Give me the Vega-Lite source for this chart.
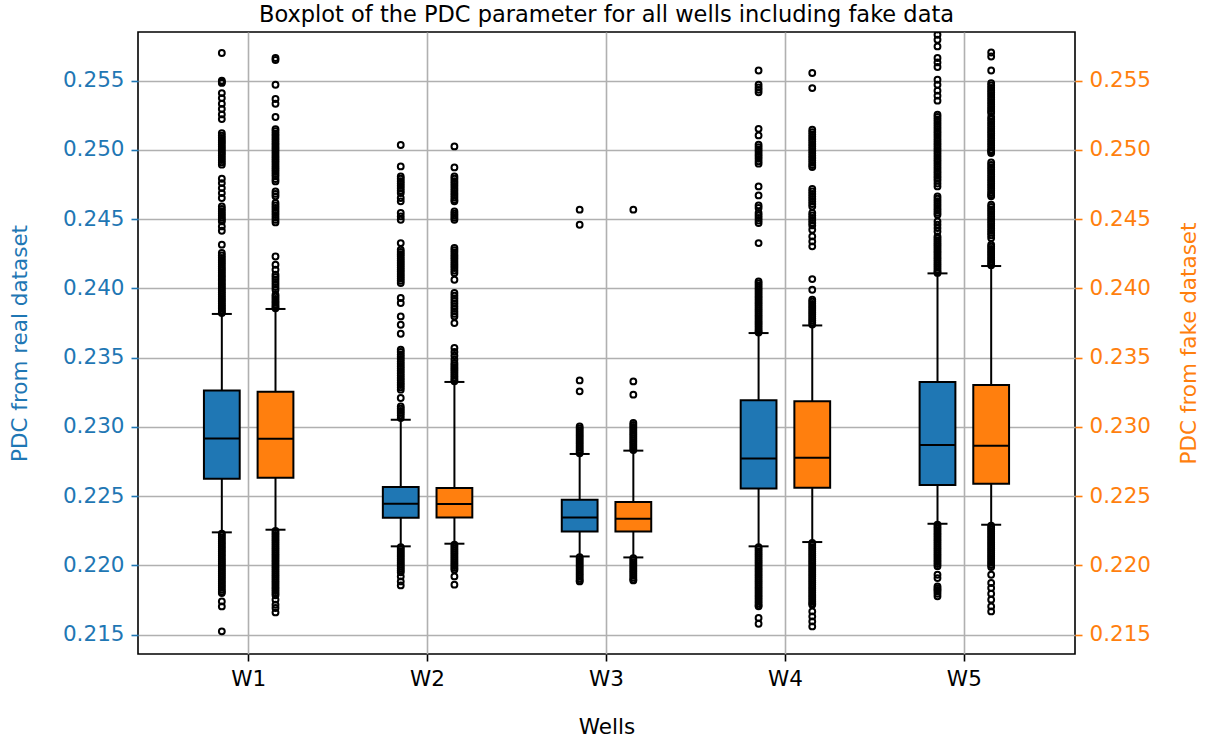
{
"$schema": "https://vega.github.io/schema/vega-lite/v6.json",
"width": 937, "height": 622,
"autosize": {"type": "none"},
"padding": {"left": 138, "top": 32, "right": 134, "bottom": 88},
"title": {"text": "Boxplot of the PDC parameter for all wells including fake data", "fontSize": 22.5, "fontWeight": "normal", "font": "DejaVu Sans", "color": "#000", "anchor": "middle", "frame": "group", "baseline": "alphabetic", "offset": -12},
"config": {
  "font": "DejaVu Sans",
  "view": {"stroke": "#000", "strokeWidth": 1.6},
  "axis": {"domain": false, "labelFont": "DejaVu Sans", "labelFontSize": 21.5, "titleFont": "DejaVu Sans", "titleFontSize": 21.5, "titleFontWeight": "normal", "tickSize": 7, "tickWidth": 1.6, "labelPadding": 7, "gridColor": "#b0b0b0", "gridWidth": 1.6, "labelColor": "#000", "titleColor": "#000", "tickColor": "#000"},
  "axisX": {"labelAngle": 0, "grid": true, "titlePadding": 27}
},
"datasets": {
  "stats": [
    {"w": "W1", "s": "real", "lo": 0.22239, "q1": 0.22626, "med": 0.22917, "q3": 0.23264, "hi": 0.23816},
    {"w": "W1", "s": "fake", "lo": 0.22258, "q1": 0.22634, "med": 0.22915, "q3": 0.23255, "hi": 0.23852},
    {"w": "W2", "s": "real", "lo": 0.22138, "q1": 0.22345, "med": 0.22446, "q3": 0.22566, "hi": 0.23052},
    {"w": "W2", "s": "fake", "lo": 0.22157, "q1": 0.22347, "med": 0.22444, "q3": 0.22559, "hi": 0.23325},
    {"w": "W3", "s": "real", "lo": 0.22065, "q1": 0.22246, "med": 0.22347, "q3": 0.22475, "hi": 0.22805},
    {"w": "W3", "s": "fake", "lo": 0.22058, "q1": 0.22246, "med": 0.22338, "q3": 0.22458, "hi": 0.22829},
    {"w": "W4", "s": "real", "lo": 0.22138, "q1": 0.22556, "med": 0.22773, "q3": 0.23192, "hi": 0.23678},
    {"w": "W4", "s": "fake", "lo": 0.22169, "q1": 0.22561, "med": 0.22778, "q3": 0.23185, "hi": 0.23733},
    {"w": "W5", "s": "real", "lo": 0.22301, "q1": 0.22581, "med": 0.22870, "q3": 0.23325, "hi": 0.24109},
    {"w": "W5", "s": "fake", "lo": 0.22294, "q1": 0.22590, "med": 0.22865, "q3": 0.23303, "hi": 0.24162}
  ],
  "fliers": [
    {"w": "W1", "s": "real", "v": [0.2570,0.2550,0.25492,0.25484,0.25411,0.25375,0.25334,0.25296,0.25257,0.25223,0.25122,0.25104,0.25088,0.25071,0.25056,0.2504,0.25023,0.25007,0.24991,0.24976,0.2496,0.24943,0.24927,0.24911,0.24894,0.24792,0.24761,0.24725,0.24689,0.24653,0.24592,0.24574,0.24558,0.24541,0.24526,0.2451,0.24496,0.24484,0.24448,0.24417,0.24316,0.24256,0.24238,0.24221,0.24205,0.2419,0.24174,0.24158,0.24143,0.24128,0.24113,0.24098,0.24084,0.24069,0.24055,0.2404,0.24026,0.24012,0.23998,0.23984,0.2397,0.23957,0.23943,0.2393,0.23917,0.23904,0.23891,0.23878,0.23866,0.23854,0.23842,0.2383,0.23822,0.2223,0.22216,0.22201,0.22187,0.22172,0.22158,0.22143,0.22129,0.22114,0.221,0.22085,0.22071,0.22056,0.22042,0.22027,0.22013,0.21998,0.21984,0.21969,0.21955,0.2194,0.21926,0.21911,0.21897,0.21882,0.21868,0.21853,0.21839,0.21824,0.2181,0.21801,0.2174,0.21704,0.21524]},
    {"w": "W1", "s": "fake", "v": [0.25664,0.2565,0.25471,0.25368,0.25334,0.25238,0.25151,0.25135,0.25118,0.25102,0.25086,0.2507,0.25053,0.25037,0.25021,0.25005,0.24989,0.24972,0.24956,0.2494,0.24924,0.24908,0.24891,0.24875,0.24859,0.24843,0.24826,0.2481,0.2479,0.24773,0.24701,0.24683,0.24665,0.24617,0.246,0.24582,0.24565,0.24547,0.2453,0.24512,0.24495,0.24477,0.24231,0.24171,0.24135,0.24099,0.24082,0.24064,0.24046,0.24028,0.2401,0.23991,0.23955,0.2394,0.23925,0.2391,0.23896,0.23882,0.23868,0.23857,0.2225,0.22235,0.2222,0.22205,0.2219,0.22175,0.2216,0.22145,0.2213,0.22115,0.221,0.22085,0.2207,0.22055,0.2204,0.22025,0.2201,0.21995,0.2198,0.21965,0.2195,0.21935,0.2192,0.21905,0.2189,0.21875,0.2186,0.21845,0.2183,0.21815,0.218,0.21785,0.21753,0.21717,0.21693,0.21661]},
    {"w": "W2", "s": "real", "v": [0.25036,0.24881,0.24809,0.24792,0.24775,0.24758,0.24741,0.24724,0.24706,0.24689,0.24653,0.24629,0.24545,0.2452,0.24496,0.24328,0.2428,0.24264,0.24248,0.24232,0.24216,0.242,0.24184,0.24168,0.24152,0.24136,0.2412,0.24104,0.24088,0.24072,0.24056,0.24039,0.23931,0.23895,0.23798,0.23738,0.23673,0.23558,0.23541,0.23524,0.23507,0.2349,0.23473,0.23456,0.23439,0.23422,0.23405,0.23388,0.23371,0.23354,0.23337,0.2332,0.23303,0.23286,0.23269,0.23209,0.23148,0.23132,0.23116,0.231,0.23084,0.23064,0.22132,0.22118,0.22104,0.2209,0.22076,0.22062,0.22048,0.22034,0.2202,0.22006,0.21992,0.21978,0.21964,0.2195,0.21921,0.21885,0.21856]},
    {"w": "W2", "s": "fake", "v": [0.25026,0.24874,0.24809,0.24792,0.24775,0.24758,0.24741,0.24724,0.24707,0.2469,0.24673,0.24656,0.2464,0.24629,0.24556,0.2454,0.24525,0.2451,0.24496,0.24292,0.24276,0.2426,0.24244,0.24228,0.24212,0.24196,0.2418,0.24164,0.24148,0.2413,0.24112,0.24063,0.23967,0.23948,0.23929,0.2391,0.23891,0.23872,0.23853,0.23834,0.23816,0.23798,0.2375,0.2357,0.23542,0.23514,0.23486,0.23462,0.23447,0.23432,0.23417,0.23402,0.23387,0.23372,0.23357,0.23342,0.2333,0.2215,0.22136,0.22122,0.22108,0.22094,0.2208,0.22066,0.22052,0.22038,0.22024,0.2201,0.21996,0.21982,0.21969,0.21921,0.21861]},
    {"w": "W3", "s": "real", "v": [0.24569,0.2446,0.23336,0.23257,0.23004,0.2299,0.22976,0.22962,0.22948,0.22934,0.2292,0.22906,0.22892,0.22878,0.22864,0.2285,0.22836,0.22822,0.2281,0.2206,0.22046,0.22032,0.22018,0.22004,0.2199,0.21976,0.21962,0.21948,0.21934,0.2192,0.21906,0.21892,0.21885]},
    {"w": "W3", "s": "fake", "v": [0.24569,0.23329,0.23233,0.23029,0.23015,0.23001,0.22987,0.22973,0.22959,0.22945,0.22931,0.22917,0.22903,0.22889,0.22875,0.22861,0.22847,0.22833,0.22052,0.22038,0.22024,0.2201,0.21996,0.21982,0.21968,0.21954,0.2194,0.21926,0.21912,0.21898,0.21892]},
    {"w": "W4", "s": "real", "v": [0.25574,0.25471,0.25452,0.25434,0.25416,0.25153,0.25105,0.25038,0.25021,0.25004,0.24987,0.2497,0.24953,0.24936,0.24918,0.24901,0.24737,0.24672,0.246,0.24581,0.24545,0.24527,0.24509,0.24491,0.24473,0.24328,0.24051,0.24036,0.24021,0.24006,0.23991,0.23976,0.23961,0.23946,0.23931,0.23916,0.23901,0.23886,0.23871,0.23856,0.23841,0.23826,0.23811,0.23796,0.23781,0.23766,0.23751,0.23736,0.23721,0.23706,0.23691,0.23682,0.22132,0.22117,0.22102,0.22087,0.22072,0.22057,0.22042,0.22027,0.22012,0.21997,0.21982,0.21967,0.21952,0.21937,0.21922,0.21907,0.21892,0.21877,0.21862,0.21847,0.21832,0.21817,0.21802,0.21787,0.21772,0.21757,0.21742,0.21727,0.21712,0.21705,0.21621,0.21579]},
    {"w": "W4", "s": "fake", "v": [0.25556,0.25447,0.25146,0.25129,0.25112,0.25095,0.25078,0.25061,0.25044,0.25027,0.2501,0.24993,0.24976,0.24959,0.24942,0.24925,0.24908,0.24891,0.24877,0.24718,0.247,0.24682,0.24664,0.24646,0.24628,0.2461,0.24592,0.24545,0.24527,0.24509,0.24491,0.24473,0.24455,0.24424,0.24376,0.2434,0.24304,0.24068,0.23991,0.23919,0.23904,0.23889,0.23874,0.23859,0.23844,0.23829,0.23814,0.23799,0.23784,0.23769,0.23754,0.2374,0.22162,0.22147,0.22132,0.22117,0.22102,0.22087,0.22072,0.22057,0.22042,0.22027,0.22012,0.21997,0.21982,0.21967,0.21952,0.21937,0.21922,0.21907,0.21892,0.21877,0.21862,0.21847,0.21832,0.21817,0.21802,0.21787,0.21772,0.21757,0.21742,0.21727,0.21717,0.21668,0.21632,0.21596,0.2156]},
    {"w": "W5", "s": "real", "v": [0.2587,0.25832,0.25796,0.25748,0.25664,0.25632,0.25599,0.25507,0.25471,0.25428,0.25392,0.25356,0.25255,0.25238,0.25221,0.25204,0.25187,0.2517,0.25153,0.25136,0.25119,0.25102,0.25085,0.25068,0.25051,0.25034,0.25017,0.25,0.24983,0.24966,0.24949,0.24932,0.24915,0.24898,0.24881,0.24864,0.24847,0.2483,0.24813,0.24796,0.24779,0.24758,0.24737,0.24665,0.24648,0.24631,0.24614,0.24597,0.2458,0.24563,0.24546,0.24532,0.24484,0.2446,0.24436,0.24412,0.24376,0.24361,0.24346,0.24331,0.24316,0.24301,0.24286,0.24271,0.24256,0.24241,0.24226,0.24211,0.24196,0.24181,0.24166,0.24151,0.24136,0.24121,0.24112,0.22295,0.2228,0.22265,0.2225,0.22235,0.2222,0.22205,0.2219,0.22175,0.2216,0.22145,0.2213,0.22115,0.221,0.22085,0.2207,0.22055,0.2204,0.22025,0.2201,0.21995,0.21933,0.21909,0.21849,0.21836,0.21824,0.21812,0.21795,0.21777]},
    {"w": "W5", "s": "fake", "v": [0.25704,0.25675,0.25574,0.25483,0.25466,0.25449,0.25432,0.25415,0.25398,0.25381,0.25364,0.25347,0.2533,0.25313,0.25296,0.2528,0.25267,0.25238,0.25221,0.25204,0.25187,0.2517,0.25153,0.25136,0.25119,0.25102,0.25085,0.25068,0.25051,0.25034,0.25017,0.25,0.2499,0.24978,0.2491,0.24893,0.24876,0.24859,0.24842,0.24825,0.24808,0.24791,0.24774,0.24757,0.2474,0.24723,0.24706,0.24689,0.24675,0.24665,0.24605,0.24588,0.24571,0.24554,0.24537,0.2452,0.24503,0.24486,0.24469,0.24452,0.24435,0.24418,0.24401,0.24384,0.24364,0.24316,0.24301,0.24286,0.24271,0.24256,0.24241,0.24226,0.24211,0.24196,0.24181,0.24168,0.22288,0.22273,0.22258,0.22243,0.22228,0.22213,0.22198,0.22183,0.22168,0.22153,0.22138,0.22123,0.22108,0.22093,0.22078,0.22063,0.22048,0.22033,0.22018,0.22003,0.21988,0.21933,0.21873,0.21837,0.21796,0.21753,0.21704,0.21668]}
  ]
},
"layer": [
  {"layer": [
    {"data": {"name": "stats"}, "transform": [{"filter": {"field": "s", "equal": "real"}}],
     "mark": {"type": "rule", "color": "#000", "strokeWidth": 2},
     "encoding": {
       "x": {"field": "w", "type": "nominal", "title": "Wells", "scale": {"paddingInner": 0, "paddingOuter": 0.1185}},
       "xOffset": {"field": "s", "type": "nominal", "scale": {"domain": ["real", "fake"], "paddingInner": 0.3333, "paddingOuter": 0.8333}},
       "y": {"field": "lo", "type": "quantitative", "title": "PDC from real dataset", "scale": {"domain": [0.213606, 0.258519], "nice": false, "zero": false},
             "axis": {"orient": "left", "values": [0.215, 0.22, 0.225, 0.23, 0.235, 0.24, 0.245, 0.25, 0.255], "format": ".3f", "grid": true, "labelColor": "#1f77b4", "tickColor": "#1f77b4", "titleColor": "#1f77b4", "titleX": -118, "titleY": 311, "titleAngle": -90, "titleAlign": "center", "titleBaseline": "middle"}},
       "y2": {"field": "hi"}
     }},
    {"data": {"name": "stats"}, "transform": [{"filter": {"field": "s", "equal": "real"}}],
     "mark": {"type": "bar", "color": "#1f77b4", "stroke": "#000", "strokeWidth": 2, "opacity": 1},
     "encoding": {
       "x": {"field": "w", "type": "nominal", "title": "Wells", "scale": {"paddingInner": 0, "paddingOuter": 0.1185}},
       "xOffset": {"field": "s", "type": "nominal", "scale": {"domain": ["real", "fake"], "paddingInner": 0.3333, "paddingOuter": 0.8333}},
       "y": {"field": "q1", "type": "quantitative", "title": "PDC from real dataset", "scale": {"domain": [0.213606, 0.258519], "nice": false, "zero": false}},
       "y2": {"field": "q3"}
     }},
    {"data": {"name": "stats"}, "transform": [{"filter": {"field": "s", "equal": "real"}}],
     "mark": {"type": "tick", "color": "#000", "thickness": 2, "size": 36, "opacity": 1},
     "encoding": {
       "x": {"field": "w", "type": "nominal", "title": "Wells", "scale": {"paddingInner": 0, "paddingOuter": 0.1185}},
       "xOffset": {"field": "s", "type": "nominal", "scale": {"domain": ["real", "fake"], "paddingInner": 0.3333, "paddingOuter": 0.8333}},
       "y": {"field": "med", "type": "quantitative", "title": "PDC from real dataset", "scale": {"domain": [0.213606, 0.258519], "nice": false, "zero": false}}
     }},
    {"data": {"name": "stats"}, "transform": [{"filter": {"field": "s", "equal": "real"}}],
     "mark": {"type": "tick", "color": "#000", "thickness": 2, "size": 20, "opacity": 1},
     "encoding": {
       "x": {"field": "w", "type": "nominal", "title": "Wells", "scale": {"paddingInner": 0, "paddingOuter": 0.1185}},
       "xOffset": {"field": "s", "type": "nominal", "scale": {"domain": ["real", "fake"], "paddingInner": 0.3333, "paddingOuter": 0.8333}},
       "y": {"field": "lo", "type": "quantitative", "title": "PDC from real dataset", "scale": {"domain": [0.213606, 0.258519], "nice": false, "zero": false}}
     }},
    {"data": {"name": "stats"}, "transform": [{"filter": {"field": "s", "equal": "real"}}],
     "mark": {"type": "tick", "color": "#000", "thickness": 2, "size": 20, "opacity": 1},
     "encoding": {
       "x": {"field": "w", "type": "nominal", "title": "Wells", "scale": {"paddingInner": 0, "paddingOuter": 0.1185}},
       "xOffset": {"field": "s", "type": "nominal", "scale": {"domain": ["real", "fake"], "paddingInner": 0.3333, "paddingOuter": 0.8333}},
       "y": {"field": "hi", "type": "quantitative", "title": "PDC from real dataset", "scale": {"domain": [0.213606, 0.258519], "nice": false, "zero": false}}
     }},
    {"data": {"name": "fliers"}, "transform": [{"filter": {"field": "s", "equal": "real"}}, {"flatten": ["v"]}],
     "mark": {"type": "point", "shape": "circle", "filled": false, "stroke": "#000", "strokeWidth": 2, "size": 34, "opacity": 1, "clip": true},
     "encoding": {
       "x": {"field": "w", "type": "nominal", "title": "Wells", "scale": {"paddingInner": 0, "paddingOuter": 0.1185}},
       "xOffset": {"field": "s", "type": "nominal", "scale": {"domain": ["real", "fake"], "paddingInner": 0.3333, "paddingOuter": 0.8333}},
       "y": {"field": "v", "type": "quantitative", "title": "PDC from real dataset", "scale": {"domain": [0.213606, 0.258519], "nice": false, "zero": false}}
     }}
  ]},
  {"layer": [
    {"data": {"name": "stats"}, "transform": [{"filter": {"field": "s", "equal": "fake"}}],
     "mark": {"type": "rule", "color": "#000", "strokeWidth": 2},
     "encoding": {
       "x": {"field": "w", "type": "nominal", "title": "Wells", "scale": {"paddingInner": 0, "paddingOuter": 0.1185}},
       "xOffset": {"field": "s", "type": "nominal", "scale": {"domain": ["real", "fake"], "paddingInner": 0.3333, "paddingOuter": 0.8333}},
       "y": {"field": "lo", "type": "quantitative", "title": "PDC from fake dataset", "scale": {"domain": [0.213606, 0.258519], "nice": false, "zero": false},
             "axis": {"orient": "right", "values": [0.215, 0.22, 0.225, 0.23, 0.235, 0.24, 0.245, 0.25, 0.255], "format": ".3f", "grid": false, "labelColor": "#ff7f0e", "tickColor": "#ff7f0e", "titleColor": "#ff7f0e", "titleX": 114, "titleY": 311, "titleAngle": -90, "titleAlign": "center", "titleBaseline": "middle"}},
       "y2": {"field": "hi"}
     }},
    {"data": {"name": "stats"}, "transform": [{"filter": {"field": "s", "equal": "fake"}}],
     "mark": {"type": "bar", "color": "#ff7f0e", "stroke": "#000", "strokeWidth": 2, "opacity": 1},
     "encoding": {
       "x": {"field": "w", "type": "nominal", "title": "Wells", "scale": {"paddingInner": 0, "paddingOuter": 0.1185}},
       "xOffset": {"field": "s", "type": "nominal", "scale": {"domain": ["real", "fake"], "paddingInner": 0.3333, "paddingOuter": 0.8333}},
       "y": {"field": "q1", "type": "quantitative", "title": "PDC from fake dataset", "scale": {"domain": [0.213606, 0.258519], "nice": false, "zero": false}},
       "y2": {"field": "q3"}
     }},
    {"data": {"name": "stats"}, "transform": [{"filter": {"field": "s", "equal": "fake"}}],
     "mark": {"type": "tick", "color": "#000", "thickness": 2, "size": 36, "opacity": 1},
     "encoding": {
       "x": {"field": "w", "type": "nominal", "title": "Wells", "scale": {"paddingInner": 0, "paddingOuter": 0.1185}},
       "xOffset": {"field": "s", "type": "nominal", "scale": {"domain": ["real", "fake"], "paddingInner": 0.3333, "paddingOuter": 0.8333}},
       "y": {"field": "med", "type": "quantitative", "title": "PDC from fake dataset", "scale": {"domain": [0.213606, 0.258519], "nice": false, "zero": false}}
     }},
    {"data": {"name": "stats"}, "transform": [{"filter": {"field": "s", "equal": "fake"}}],
     "mark": {"type": "tick", "color": "#000", "thickness": 2, "size": 20, "opacity": 1},
     "encoding": {
       "x": {"field": "w", "type": "nominal", "title": "Wells", "scale": {"paddingInner": 0, "paddingOuter": 0.1185}},
       "xOffset": {"field": "s", "type": "nominal", "scale": {"domain": ["real", "fake"], "paddingInner": 0.3333, "paddingOuter": 0.8333}},
       "y": {"field": "lo", "type": "quantitative", "title": "PDC from fake dataset", "scale": {"domain": [0.213606, 0.258519], "nice": false, "zero": false}}
     }},
    {"data": {"name": "stats"}, "transform": [{"filter": {"field": "s", "equal": "fake"}}],
     "mark": {"type": "tick", "color": "#000", "thickness": 2, "size": 20, "opacity": 1},
     "encoding": {
       "x": {"field": "w", "type": "nominal", "title": "Wells", "scale": {"paddingInner": 0, "paddingOuter": 0.1185}},
       "xOffset": {"field": "s", "type": "nominal", "scale": {"domain": ["real", "fake"], "paddingInner": 0.3333, "paddingOuter": 0.8333}},
       "y": {"field": "hi", "type": "quantitative", "title": "PDC from fake dataset", "scale": {"domain": [0.213606, 0.258519], "nice": false, "zero": false}}
     }},
    {"data": {"name": "fliers"}, "transform": [{"filter": {"field": "s", "equal": "fake"}}, {"flatten": ["v"]}],
     "mark": {"type": "point", "shape": "circle", "filled": false, "stroke": "#000", "strokeWidth": 2, "size": 34, "opacity": 1, "clip": true},
     "encoding": {
       "x": {"field": "w", "type": "nominal", "title": "Wells", "scale": {"paddingInner": 0, "paddingOuter": 0.1185}},
       "xOffset": {"field": "s", "type": "nominal", "scale": {"domain": ["real", "fake"], "paddingInner": 0.3333, "paddingOuter": 0.8333}},
       "y": {"field": "v", "type": "quantitative", "title": "PDC from fake dataset", "scale": {"domain": [0.213606, 0.258519], "nice": false, "zero": false}}
     }}
  ]}
],
"resolve": {"scale": {"y": "independent"}}
}
